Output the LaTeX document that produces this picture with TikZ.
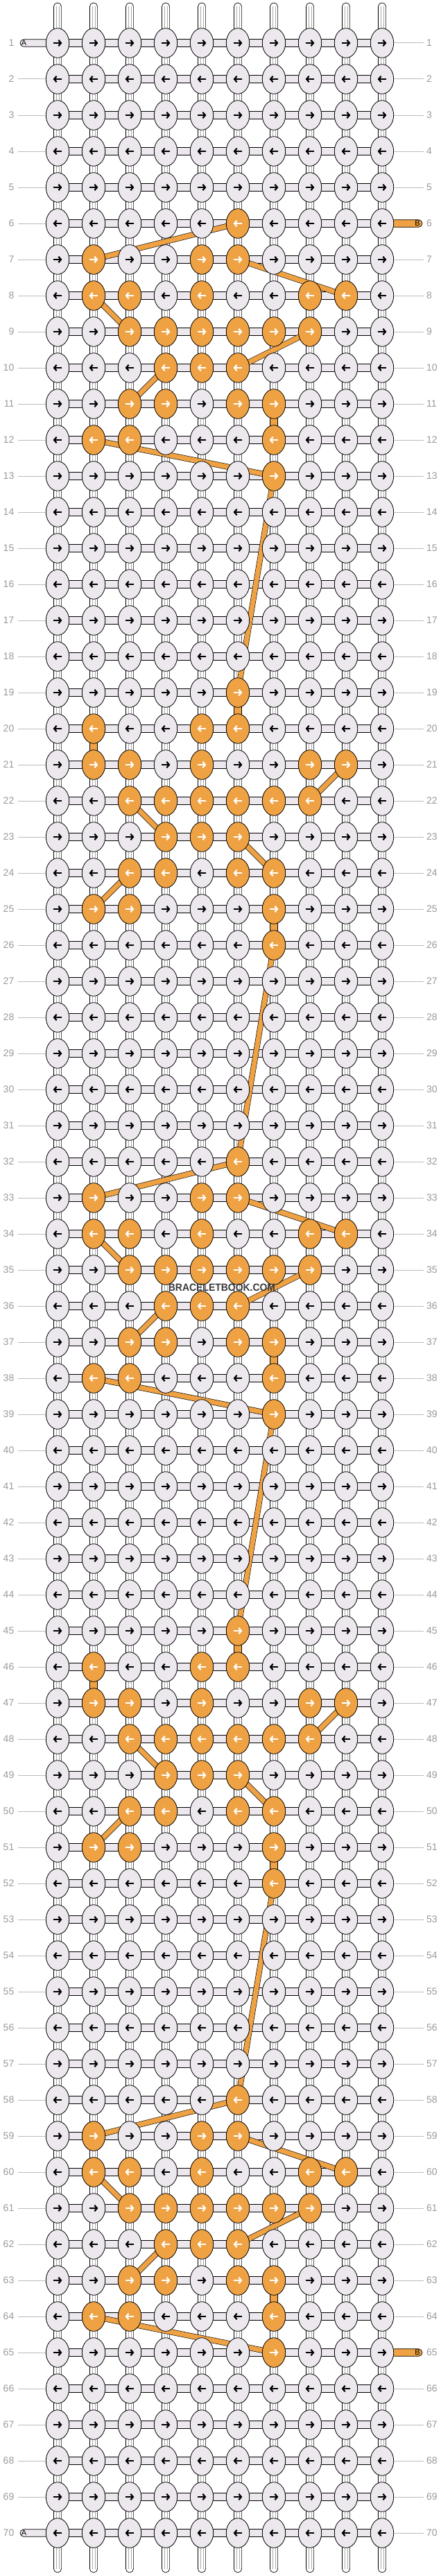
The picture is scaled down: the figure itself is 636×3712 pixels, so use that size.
\documentclass[tikz,border=0pt]{standalone}
\usepackage{fontspec}
\setmainfont{Liberation Sans}
\usetikzlibrary{shapes.geometric,arrows.meta}
\pgfdeclarelayer{bg}
\pgfdeclarelayer{mid}
\pgfsetlayers{bg,mid,main}
\definecolor{knotgrey}{HTML}{ECE8EE}
\definecolor{orng}{HTML}{EFA243}
\definecolor{lblgrey}{HTML}{9A9A9A}
\definecolor{lngrey}{HTML}{BBBBBB}
\definecolor{innergrey}{HTML}{AAAAAA}
\definecolor{wmgrey}{HTML}{3A3A3A}
\tikzset{
  knot/.style={ellipse, draw=black, line width=0.8pt, minimum width=33.4pt, minimum height=42.6pt, inner sep=0pt},
  hbar/.style={draw=black, line width=0.7pt, fill=knotgrey},
  vstr/.style={draw=black, line width=0.7pt, fill=white},
  inln/.style={draw=innergrey, line width=0.5pt},
  oline/.style={draw=black, line width=0.6pt, double=orng, double distance=7pt},
  arw/.style={line width=2.2pt, -{Straight Barb[length=3.6pt,width=8.5pt]}},
  lbl/.style={text=lblgrey, font=\fontsize{14}{14}\selectfont, inner sep=0pt},
  gline/.style={draw=lngrey, line width=1pt},
  strlbl/.style={font=\fontsize{11}{11}\selectfont, inner sep=0pt, text=black},
}
\begin{document}
\begin{tikzpicture}[x=1pt,y=-1pt]
\useasboundingbox (0,0) rectangle (636,3712);
% orange knots
\foreach \s in {6,19,32,45,58}{%
  \foreach \o/\cl in {0/6, 1/2,1/5,1/6, 2/2,2/3,2/5,2/8,2/9, 3/3,3/4,3/5,3/6,3/7,3/8, 4/4,4/5,4/6, 5/3,5/4,5/6,5/7, 6/2,6/3,6/7, 7/7}{%
    \pgfmathtruncatemacro\rr{\s+\o}%
    \expandafter\gdef\csname orng-\rr-\cl\endcsname{}%
  }%
}
\begin{pgfonlayer}{bg}
  \fill[white] (0,0) rectangle (636,3712);
  % vertical strings
  \foreach \ci in {1,...,10}{
    \pgfmathsetmacro\xx{83+52*(\ci-1)}
    \draw[vstr, rounded corners=5.6pt] (\xx-5.6,4) rectangle (\xx+5.6,3707);
    \draw[inln] (\xx-2.2,9) -- (\xx-2.2,3702);
    \draw[inln] (\xx+2.2,9) -- (\xx+2.2,3702);
  }
  % orange vertical segments
  \foreach \ra/\cc in {11/7, 19/6, 20/2, 25/7, 37/7, 45/6, 46/2, 51/7, 63/7}{
    \pgfmathsetmacro\xx{83+52*(\cc-1)}
    \pgfmathsetmacro\ya{62+52*(\ra-1)}
    \draw[vstr, fill=orng] (\xx-5.6,\ya) rectangle (\xx+5.6,\ya+52);
  }
  % horizontal bars
  \foreach \ri in {1,...,70}{
    \pgfmathsetmacro\yy{62+52*(\ri-1)}
    \draw[hbar] (83,\yy-5.3) rectangle (551,\yy+5.3);
  }
  % A strings
  \foreach \ri in {1,70}{
    \pgfmathsetmacro\yy{62+52*(\ri-1)}
    \draw[hbar, rounded corners=5.3pt] (29,\yy-5.3) rectangle (90,\yy+5.3);
    \node[strlbl] (A-\ri) at (34.5,\yy) {A};
  }
  % B strings
  \foreach \ri in {6,65}{
    \pgfmathsetmacro\yy{62+52*(\ri-1)}
    \draw[hbar, fill=orng, rounded corners=5.3pt] (545,\yy-5.3) rectangle (609,\yy+5.3);
    \node[strlbl] (B-\ri) at (602,\yy) {B};
  }
\end{pgfonlayer}
% knots
\foreach \ri in {1,...,70}{
  \pgfmathsetmacro\yy{62+52*(\ri-1)}
  \foreach \ci in {1,...,10}{
    \pgfmathsetmacro\xx{83+52*(\ci-1)}
    \ifcsname orng-\ri-\ci\endcsname
      \def\kf{orng}\def\ac{white}%
    \else
      \def\kf{knotgrey}\def\ac{black}%
    \fi
    \node[knot, fill=\kf] (k-\ri-\ci) at (\xx,\yy) {};
    \ifodd\ri
      \draw[arw, draw=\ac] (\xx-6.4,\yy) -- (\xx+6.4,\yy);
    \else
      \draw[arw, draw=\ac] (\xx+6.4,\yy) -- (\xx-6.4,\yy);
    \fi
  }
}
% orange thread lines
\begin{pgfonlayer}{mid}
\foreach \pa/\pb/\pc/\pd in {6/6/7/2, 7/6/8/9, 8/2/9/3, 9/8/10/6, 10/4/11/3, 12/2/13/7, 13/7/19/6,
  21/9/22/8, 22/3/23/4, 23/6/24/7, 24/3/25/2, 26/7/32/6,
  32/6/33/2, 33/6/34/9, 34/2/35/3, 35/8/36/6, 36/4/37/3, 38/2/39/7, 39/7/45/6,
  47/9/48/8, 48/3/49/4, 49/6/50/7, 50/3/51/2, 52/7/58/6,
  58/6/59/2, 59/6/60/9, 60/2/61/3, 61/8/62/6, 62/4/63/3, 64/2/65/7}{
  \draw[oline] (k-\pa-\pb.center) -- (k-\pc-\pd.center);
}
\end{pgfonlayer}
% row labels
\foreach \ri in {1,...,70}{
  \pgfmathsetmacro\yy{62+52*(\ri-1)}
  \node[lbl, anchor=east] (ll-\ri) at (20.5,\yy) {\ri};
  \node[lbl, anchor=west] (rl-\ri) at (615,\yy) {\ri};
  \ifnum\ri>1 \ifnum\ri<70
    \draw[gline] ([xshift=5.5pt]ll-\ri.east) -- (k-\ri-1.west);
  \fi\fi
  \ifnum\ri=6 \else\ifnum\ri=65 \else
    \draw[gline] (k-\ri-10.east) -- ([xshift=-4pt]rl-\ri.west);
  \fi\fi
}
% watermark
\node[text=wmgrey, font=\bfseries\fontsize{15}{15}\selectfont, inner sep=0pt] (wm) at (320,1855.7) {\scalebox{0.93}[1]{BRACELETBOOK.COM}};
\end{tikzpicture}
\end{document}
